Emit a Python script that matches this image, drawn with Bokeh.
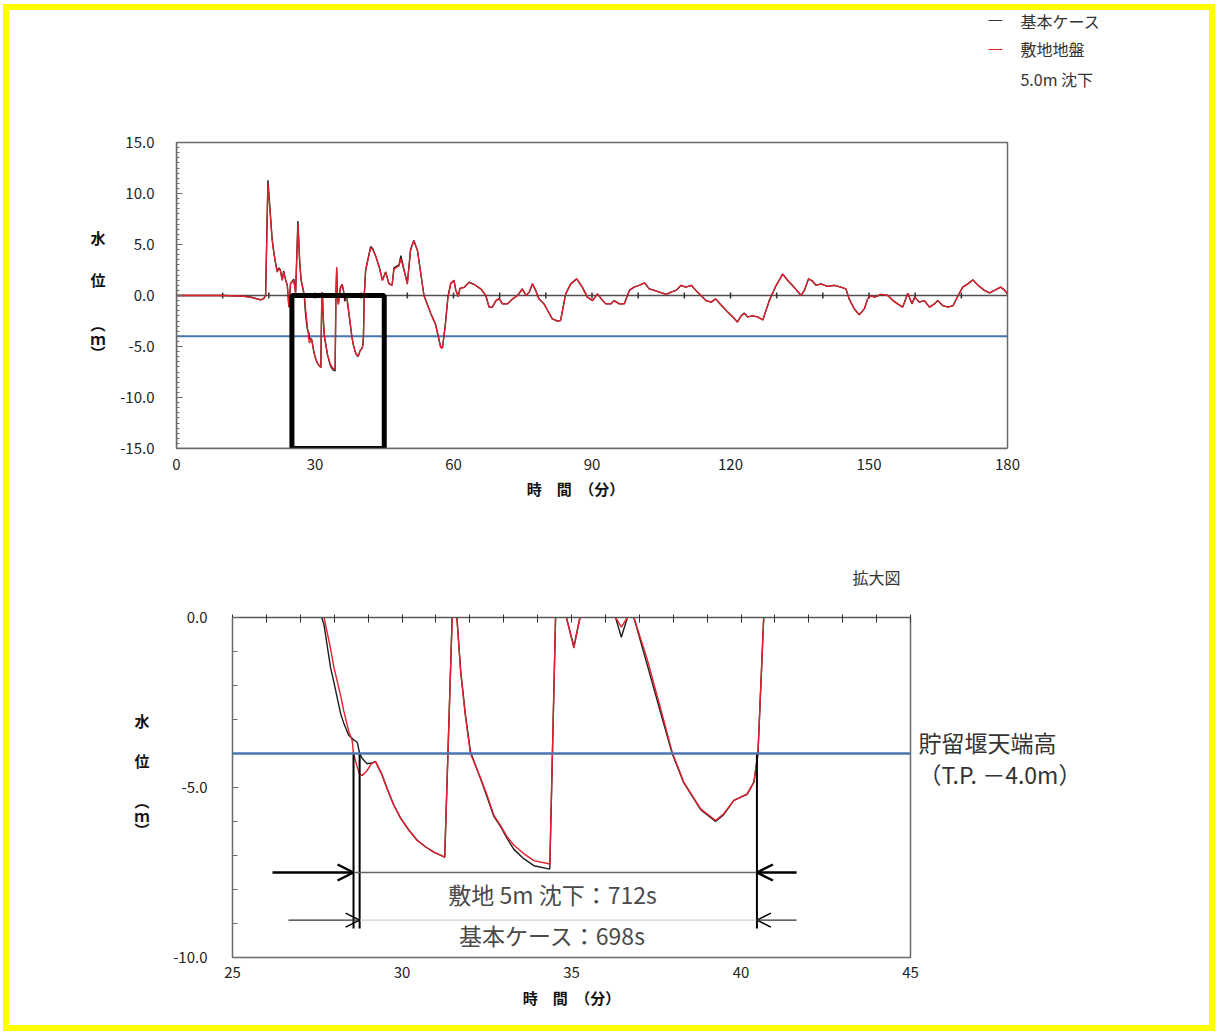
from bokeh.plotting import figure
from bokeh.models import (Range1d, SingleIntervalTicker, FixedTicker, LinearAxis, Label,
                          Arrow, OpenHead, Span, NumeralTickFormatter, CustomJSTickFormatter,
                          Spacer)
from bokeh.layouts import column, row
from bokeh.embed import file_html
from bokeh.resources import INLINE

FONT = "Noto Sans CJK JP"

# ---------------- data ----------------
# time [min], 0 - 60.8 : the two cases differ slightly
time_min_a = [
    0, 5, 10, 14, 16, 18.2, 18.9, 19.3, 19.8, 20.3,
    20.7, 21.1, 21.5, 21.8, 22.2, 22.5, 22.9, 23.2, 23.6, 24.0,
    24.35, 24.7, 25.4, 25.8, 26.3, 26.7, 27.0, 27.35, 27.6, 27.7,
    27.89, 27.99, 28.19, 28.28, 28.43, 28.53, 28.57, 28.68, 28.75, 28.83,
    28.97, 29.1, 29.22, 29.4, 29.56, 29.75, 29.96, 30.2, 30.45, 30.7,
    30.94, 31.26, 31.48, 31.55, 31.62, 31.73, 31.87, 32.02, 32.32, 32.5,
    32.71, 32.91, 33.1, 33.3, 33.6, 33.89, 34.36, 34.53, 34.7, 34.85,
    35.07, 35.25, 35.5, 35.9, 36.2, 36.3, 36.47, 36.65, 36.75, 36.84,
    37.23, 37.63, 37.97, 38.31, 38.81, 39.25, 39.49, 39.79, 40.18, 40.38,
    40.5, 40.67, 40.97, 42.05, 42.5, 43.2, 43.9, 44.6, 45.3, 46.0,
    46.7, 47.1, 48.2, 48.6, 49.3, 50.0, 50.7, 51.4, 52.2, 53.6,
    55.1, 56.1, 57.2, 57.6, 58.2, 58.8, 59.4, 60.1, 60.5, 60.8,
]
# 敷地地盤 5.0m 沈下 (red)
level_subsided_a = [
    0.0, 0.0, 0.0, -0.05, -0.15, -0.42, -0.3, 0.0, 11.0, 8.0,
    5.5, 4.1, 3.0, 2.3, 2.6, 2.45, 1.47, 2.3, 1.6, 0.98,
    -1.15, 1.17, 1.47, 0.2, 7.0, 3.1, 1.5, 0.8, 0.3, 0.0,
    -0.9, -1.46, -2.3, -2.74, -3.35, -3.62, -4.0, -4.4, -4.6, -4.65,
    -4.5, -4.3, -4.24, -4.6, -5.03, -5.5, -5.91, -6.25, -6.56, -6.75,
    -6.9, -7.05, 0.0, 0.3, 0.0, -1.61, -2.9, -4.0, -4.73, -5.2,
    -5.82, -6.12, -6.45, -6.7, -6.95, -7.15, -7.25, 0.0, 2.8, 0.0,
    -0.9, 0.0, 0.7, 1.0, 0.4, 0.0, -0.28, 0.0, 0.2, 0.0,
    -1.22, -2.68, -3.96, -4.84, -5.63, -5.97, -5.77, -5.38, -5.19, -4.84,
    -4.0, 0.0, 2.45, 4.7, 4.5, 3.8, 2.8, 1.47, 2.3, 1.14,
    1.0, 2.6, 2.9, 3.6, 2.45, 1.1, 4.4, 5.4, 4.4, 0.0,
    -1.8, -2.8, -5.07, -5.2, -3.0, -0.2, 1.14, 1.47, 0.5, 0.16,
]
# 基本ケース (black)
level_base_a = [
    0.0, 0.0, 0.0, -0.05, -0.15, -0.42, -0.3, 0.0, 11.3, 8.2,
    5.6, 4.2, 3.1, 2.4, 2.7, 2.5, 1.5, 2.4, 1.6, 1.0,
    -1.15, 1.17, 1.6, 0.3, 7.3, 3.2, 1.5, 0.7, 0.1, -0.22,
    -1.46, -1.9, -2.83, -3.1, -3.47, -3.55, -3.6, -3.67, -4.0, -4.15,
    -4.3, -4.28, -4.24, -4.6, -5.03, -5.5, -5.9, -6.25, -6.55, -6.75,
    -6.9, -7.05, 0.0, 0.3, 0.0, -1.55, -2.85, -3.95, -4.75, -5.25,
    -5.85, -6.15, -6.5, -6.82, -7.1, -7.3, -7.4, 0.0, 2.6, 0.0,
    -0.85, 0.0, 0.8, 1.1, 0.4, 0.0, -0.58, 0.0, 0.2, 0.0,
    -1.38, -2.8, -4.0, -4.86, -5.65, -6.0, -5.8, -5.38, -5.2, -4.84,
    -4.0, 0.0, 2.5, 4.8, 4.6, 3.8, 2.8, 1.5, 2.3, 1.2,
    1.0, 2.7, 3.0, 3.9, 2.5, 1.2, 4.5, 5.4, 4.4, 0.0,
    -1.8, -2.8, -5.0, -5.15, -3.0, -0.1, 1.2, 1.5, 0.5, 0.2,
]
# time [min], 61 - 180 : both cases coincide at this scale
time_min_b = [
    61.0, 61.4, 62.3, 63.4, 64.4, 65.9, 67.0, 67.7, 68.4, 69.2,
    69.9, 70.6, 71.7, 72.8, 73.9, 74.9, 75.7, 76.4, 77.1, 77.8,
    78.5, 79.6, 80.4, 81.4, 82.5, 83.2, 84.3, 85.4, 86.7, 87.9,
    89.0, 90.1, 91.2, 92.0, 93.0, 94.1, 94.8, 95.9, 97.0, 98.1,
    99.1, 100.2, 101.4, 102.4, 103.5, 104.6, 105.7, 106.4, 107.1, 108.2,
    109.3, 110.3, 111.5, 112.5, 113.6, 114.7, 115.8, 116.8, 117.9, 119.4,
    120.5, 121.5, 122.3, 123.0, 123.7, 124.8, 125.9, 127.0, 128.4, 129.9,
    131.3, 132.4, 133.8, 135.3, 136.0, 136.9, 137.8, 138.5, 139.6, 141.0,
    142.5, 143.9, 145.0, 145.7, 146.8, 147.9, 149.0, 149.7, 150.4, 151.2,
    152.6, 154.1, 155.2, 156.2, 157.3, 158.4, 159.3, 159.9, 160.9, 162.0,
    163.1, 164.2, 164.9, 166.0, 167.1, 168.2, 169.3, 170.3, 171.4, 172.5,
    173.6, 175.0, 176.1, 177.2, 178.5, 179.3, 180.0,
]
level_b = [
    -0.1, 0.7, 0.8, 1.3, 1.1, 0.65, 0.0, -1.14, -1.14, -0.5,
    -0.3, -0.82, -0.82, -0.33, 0.0, 0.65, 0.0, 0.33, 1.14, 0.5,
    -0.33, -0.82, -1.47, -2.3, -2.5, -2.45, 0.16, 1.14, 1.63, 0.82,
    -0.16, -0.5, 0.16, -0.33, -0.82, -0.82, -0.5, -0.82, -0.82, 0.5,
    0.82, 1.0, 1.24, 0.65, 0.5, 0.33, 0.16, 0.16, 0.33, 0.5,
    1.0, 0.82, 1.0, 0.5, 0.0, -0.5, -0.65, -0.33, -0.9, -1.63,
    -2.1, -2.6, -2.0, -1.73, -2.1, -2.0, -2.1, -2.4, -0.5, 1.0,
    2.1, 1.47, 0.8, 0.0, 0.5, 1.63, 1.4, 1.0, 1.14, 0.9,
    1.0, 0.82, 0.65, -0.33, -1.3, -1.9, -1.3, -0.33, 0.0, -0.16,
    0.1, 0.0, -0.5, -0.82, -1.14, 0.23, -0.82, -0.16, -0.65, -0.5,
    -1.14, -0.82, -0.5, -1.0, -1.14, -1.0, 0.0, 0.82, 1.14, 1.53,
    1.0, 0.5, 0.26, 0.5, 0.82, 0.55, 0.16,
]

weir_crest = -4.0                      # 貯留堰天端高 T.P. -4.0m
top_time_span = [0, 180]
top_level_span = [-15, 15]
zoom_time = [25, 45]                   # 拡大図 window
zoom_level = [-15, 0]
zero_line_ticks = [10, 20, 30, 40, 50, 60, 70, 80, 90, 100, 110, 120, 130, 140, 150, 160, 170]
top_x_ticks = [0, 30, 60, 90, 120, 150, 180]
bottom_x_ticks = [25, 30, 35, 40, 45]
cross_subsided = 28.57                 # crossing of -4.0 m, 敷地 5m 沈下
cross_base = 28.75                     # crossing of -4.0 m, 基本ケース
cross_end = 40.47                      # end of the period below -4.0 m
label_subsided = "敷地 5m 沈下：712s"
label_base = "基本ケース：698s"
legend_names = ["基本ケース", "敷地地盤", "5.0m 沈下"]
xlabel_text = "時　間　（分）"
ylabel_chars = ["水", "位", "︵", "ｍ", "︶"]          # vertical writing of 水位（ｍ）
ylabel_pos_top = [5.69, 1.57, -2.75, -4.22, -5.59]
ylabel_pos_bottom = [-3.03, -4.21, -5.38, -5.82, -6.24]
weir_text = ["貯留堰天端高", "（T.P. －4.0m）"]
weir_text_pos = [-3.65, -4.59]
zoom_title = "拡大図"
zoom_title_pos = 44

time_min = time_min_a + time_min_b
level_subsided = level_subsided_a + level_b
level_base = level_base_a + level_b

RED = "#e3202c"
BLACK = "#1e1e1e"
BLUE = "#4a76b0"
FRAME = "#6a6a6a"

MAP_CODE = """
for (let i = 0; i < pos.length; i++) {
  if (Math.abs(tick - pos[i]) < 1e-6) return txt[i];
}
return '';
"""


def text_axis(pos, txt, standoff, size, color="#111", style="normal"):
    ax = LinearAxis(ticker=FixedTicker(ticks=pos),
                    formatter=CustomJSTickFormatter(args=dict(pos=pos, txt=txt), code=MAP_CODE),
                    major_tick_line_color=None, minor_tick_line_color=None,
                    axis_line_color=None, major_label_standoff=standoff,
                    major_tick_in=0, major_tick_out=0)
    ax.major_label_text_font = FONT
    ax.major_label_text_font_size = size
    ax.major_label_text_color = color
    ax.major_label_text_font_style = style
    return ax


def style_axes(ax):
    ax.major_label_text_font = FONT
    ax.major_label_text_font_size = "15px"
    ax.major_label_text_color = "#222"
    ax.axis_label_text_font = FONT
    ax.axis_label_text_font_size = "15px"
    ax.axis_label_text_font_style = "bold"
    ax.axis_label_text_color = "#111"


# ---------------- top chart ----------------
# the frame is widened to the right and upwards so that the legend (drawn in data
# space) sits inside it; axes are bounded to the real 0-180 / -15..15 box.
BOX_W, BOX_H = 831, 306               # pixel size of the 0-180 x -15..15 box
FW1, FH1 = 960, 438
x_end1 = top_time_span[1] * FW1 / BOX_W
y_end1 = top_level_span[0] + (top_level_span[1] - top_level_span[0]) * FH1 / BOX_H

p1 = figure(frame_width=FW1, frame_height=FH1, min_border_left=167, min_border_right=73,
            min_border_top=0, min_border_bottom=78,
            x_range=Range1d(0, x_end1), y_range=Range1d(-15, y_end1),
            output_backend="svg", toolbar_location=None, tools="")
p1.xgrid.visible = False
p1.ygrid.visible = False
p1.outline_line_color = None

xa = p1.xaxis[0]
xa.ticker = FixedTicker(ticks=top_x_ticks)
xa.bounds = (top_time_span[0], top_time_span[1])
xa.major_tick_in = 0
xa.major_tick_out = 0
xa.minor_tick_line_color = None
xa.axis_line_color = FRAME
xa.axis_line_width = 1.5
xa.major_label_standoff = 10
style_axes(xa)

p1.add_layout(text_axis([86.4], [xlabel_text], 5, "15px", style="bold"), "below")

ya = p1.yaxis[0]
ya.ticker = SingleIntervalTicker(interval=5, num_minor_ticks=10)
ya.bounds = (top_level_span[0], top_level_span[1])
ya.formatter = NumeralTickFormatter(format="0.0")
ya.major_tick_in = 6
ya.major_tick_out = 0
ya.minor_tick_in = 3
ya.minor_tick_out = 0
ya.axis_line_color = FRAME
ya.axis_line_width = 1.5
ya.major_tick_line_color = FRAME
ya.minor_tick_line_color = FRAME
ya.major_label_standoff = 22
style_axes(ya)

p1.add_layout(text_axis(ylabel_pos_top, ylabel_chars, 12, "15px", style="bold"), "left")

# box of the chart area (top and right edges)
p1.quad(left=[top_time_span[0]], right=[top_time_span[1]],
        bottom=[top_level_span[0]], top=[top_level_span[1]],
        fill_color=None, line_color=FRAME, line_width=1.5)
# zero line with 10-minute ticks, and the weir crest line
p1.line(top_time_span, [0, 0], line_color="#505050", line_width=1.5)
p1.segment(x0=zero_line_ticks, y0=[-0.3] * len(zero_line_ticks),
           x1=zero_line_ticks, y1=[0.3] * len(zero_line_ticks),
           line_color="#333", line_width=1.5)
p1.line(top_time_span, [weir_crest, weir_crest], line_color=BLUE, line_width=2)

p1.line(time_min, level_base, line_color=BLACK, line_width=1.4)
p1.line(time_min, level_subsided, line_color=RED, line_width=1.3)
p1.quad(left=[zoom_time[0]], right=[zoom_time[1]], bottom=[zoom_level[0]], top=[zoom_level[1]],
        fill_color=None, line_color="black", line_width=5)

# legend (inside the widened frame, above-right of the box)
legend_rows = [26.96, 24.12, 21.27]
p1.segment(x0=[175.9, 175.9], y0=legend_rows[:2], x1=[178.9, 178.9], y1=legend_rows[:2],
           line_color=["#333", RED], line_width=1.2)
for txt, yy in zip(legend_names, legend_rows):
    p1.add_layout(Label(x=182.8, y=yy, text=txt, text_align="left", text_baseline="middle",
                        text_font=FONT, text_font_size="16px", text_color="#333"))

# ---------------- bottom chart (拡大図) ----------------
p2 = figure(frame_width=678, frame_height=340, min_border_left=167, min_border_right=299,
            min_border_top=91, min_border_bottom=68,
            x_range=Range1d(25, 45), y_range=Range1d(-10, 0),
            output_backend="svg", toolbar_location=None, tools="")
p2.xgrid.visible = False
p2.ygrid.visible = False
p2.outline_line_color = FRAME
p2.outline_line_width = 1.5

xb = p2.xaxis[0]
xb.ticker = FixedTicker(ticks=bottom_x_ticks)
xb.major_tick_in = 0
xb.major_tick_out = 0
xb.minor_tick_line_color = None
xb.axis_line_color = None
xb.major_label_standoff = 9
xb.axis_label = xlabel_text
xb.axis_label_standoff = 6
style_axes(xb)

top_ax = LinearAxis(ticker=SingleIntervalTicker(interval=1, num_minor_ticks=0),
                    formatter=CustomJSTickFormatter(
                        args=dict(pos=[zoom_title_pos], txt=[zoom_title]), code=MAP_CODE),
                    major_tick_in=5, major_tick_out=3, minor_tick_line_color=None,
                    axis_line_color="#555", major_tick_line_color="#333",
                    major_label_standoff=26)
top_ax.major_label_text_font = FONT
top_ax.major_label_text_font_size = "16px"
top_ax.major_label_text_color = "#333"
p2.add_layout(top_ax, "above")

yb = p2.yaxis[0]
yb.ticker = SingleIntervalTicker(interval=5, num_minor_ticks=5)
yb.formatter = NumeralTickFormatter(format="0.0")
yb.major_tick_in = 6
yb.major_tick_out = 0
yb.minor_tick_in = 5
yb.minor_tick_out = 0
yb.axis_line_color = FRAME
yb.major_tick_line_color = FRAME
yb.minor_tick_line_color = FRAME
yb.major_label_standoff = 25
style_axes(yb)

p2.add_layout(text_axis(ylabel_pos_bottom, ylabel_chars, 21, "15px", style="bold"), "left")
p2.add_layout(text_axis(weir_text_pos, weir_text, 8, "23px", color="#333"), "right")

p2.add_layout(Span(location=weir_crest, dimension="width", line_color=BLUE, line_width=2.5))
p2.line(time_min, level_base, line_color=BLACK, line_width=1.4)
p2.line(time_min, level_subsided, line_color=RED, line_width=1.4)

# duration markers
p2.segment(x0=[cross_subsided, cross_base, cross_end], y0=[weir_crest] * 3,
           x1=[cross_subsided, cross_base, cross_end], y1=[-9.15] * 3,
           line_color="black", line_width=2)
p2.segment(x0=[cross_subsided], y0=[-7.5], x1=[cross_end], y1=[-7.5],
           line_color="#666", line_width=1.5)
p2.segment(x0=[cross_base], y0=[-8.9], x1=[cross_end], y1=[-8.9],
           line_color="#c4c4c4", line_width=1)
p2.add_layout(Arrow(end=OpenHead(size=16, line_width=2.5, line_color="black"),
                    x_start=26.18, y_start=-7.5, x_end=cross_subsided, y_end=-7.5,
                    line_width=2.5, line_color="black"))
p2.add_layout(Arrow(end=OpenHead(size=16, line_width=2.5, line_color="black"),
                    x_start=41.64, y_start=-7.5, x_end=cross_end, y_end=-7.5,
                    line_width=2.5, line_color="black"))
p2.add_layout(Arrow(end=OpenHead(size=14, line_width=1.5, line_color="black"),
                    x_start=26.65, y_start=-8.9, x_end=cross_base, y_end=-8.9,
                    line_width=1.2, line_color="#333"))
p2.add_layout(Arrow(end=OpenHead(size=14, line_width=1.5, line_color="black"),
                    x_start=41.64, y_start=-8.9, x_end=cross_end, y_end=-8.9,
                    line_width=1.2, line_color="#333"))

p2.add_layout(Label(x=34.44, y=-8.12, text=label_subsided, text_align="center",
                    text_baseline="middle", text_font=FONT, text_font_size="23px",
                    text_color="#4a4a4a"))
p2.add_layout(Label(x=34.44, y=-9.35, text=label_base, text_align="center",
                    text_baseline="middle", text_font=FONT, text_font_size="23px",
                    text_color="#4a4a4a"))

page = column(row(p1), row(Spacer(width=56, height=10), p2),
              styles={"border": "6px solid #ffff00", "margin": "4px 0 0 3px"})

open("out.html", "w").write(file_html(page, INLINE))
